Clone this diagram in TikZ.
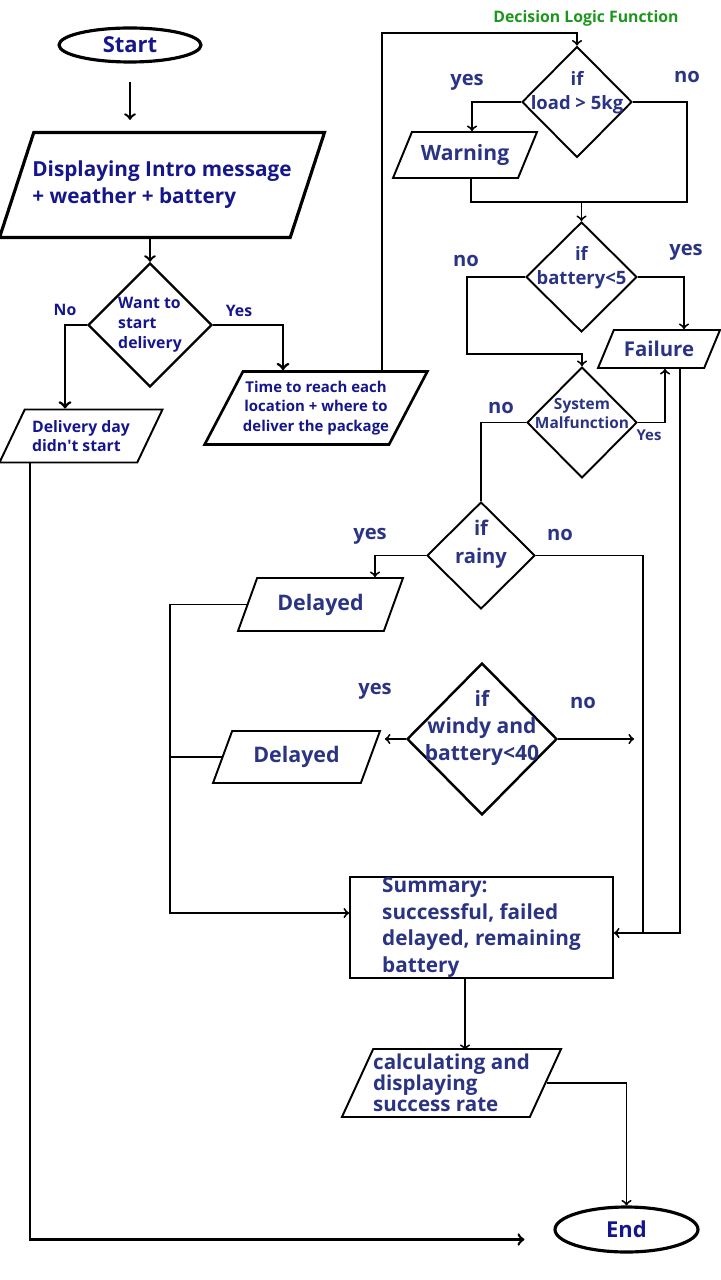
\documentclass[tikz,border=0pt]{standalone}
\usepackage{fontspec}
\setmainfont{Open Sans}
\usetikzlibrary{shapes.geometric}

\definecolor{navy}{RGB}{22,22,140}
\definecolor{ink}{RGB}{42,52,130}
\definecolor{leaf}{RGB}{30,150,30}

\newcommand{\fsz}[2]{\fontsize{#1}{#2}\selectfont\bfseries}
\newcommand{\lift}{\\\rule{0pt}{0pt}}

\begin{document}
\begin{tikzpicture}[x=0.02cm, y=-0.02cm,
  wire/.style={line width=1.1pt},
  arr/.style={wire, ->},
  term/.style={ellipse, draw, line width=1.8pt, text=navy, inner sep=0pt},
  io/.style={trapezium, trapezium left angle=60, trapezium right angle=120,
    trapezium stretches body=true, draw, line width=1.1pt, inner xsep=0pt, text=ink},
  dec/.style={diamond, aspect=1, draw, line width=1.1pt, inner sep=0pt, text=ink},
  lbl/.style={text=ink, font=\fsz{11.5}{14}}]

\useasboundingbox (0,0) rectangle (720,1280);

\node[term, minimum width=2.84cm, minimum height=0.68cm, font=\fsz{12.5}{15}] (start) at (130,45) {Start};
\node[io, line width=1.8pt, text=navy, minimum width=6.5cm, minimum height=2.1cm, inner xsep=-3pt, align=left, font=\fsz{11.8}{15.3}] (intro) at (162,185) {Displaying Intro message\\+ weather + battery};
\node[dec, line width=1.3pt, text=navy, minimum width=2.48cm, minimum height=2.48cm, inner sep=-2pt, align=left, font=\fsz{9}{11.3}] (want) at (150,325) {Want to\\start\\delivery};
\node[io, text=navy, minimum width=3.26cm, minimum height=1.06cm, align=left, font=\fsz{9}{11.3}] (nostart) at (81,436) {Delivery day\\didn\textquotesingle t start};
\node[io, line width=1.5pt, text=navy, minimum width=4.18cm, minimum height=1.46cm, align=center, font=\fsz{8.5}{11.3}] (route) at (316,408) {Time to reach each\\location + where to\\deliver the package};

\node[text=leaf, font=\fsz{9}{11}] (title) at (586,18) {Decision Logic Function};
\node[dec, minimum width=2.2cm, minimum height=2.22cm, inner sep=-7pt, align=center, font=\fsz{10.5}{13.6}] (load) at (577,102) {if\\load > 5kg\lift};
\node[io, minimum width=2.88cm, minimum height=0.92cm, font=\fsz{12}{14}] (warn) at (465,155) {Warning};
\node[dec, minimum width=2.22cm, minimum height=2.2cm, inner sep=-7pt, align=center, font=\fsz{10.5}{13.6}] (batt) at (581.5,277) {if\\battery<5\lift};
\node[io, minimum width=2.44cm, minimum height=0.76cm, font=\fsz{11.6}{14}] (fail) at (659,349) {Failure};
\node[dec, minimum width=2.2cm, minimum height=2.22cm, inner sep=-5pt, align=center, font=\fsz{8.8}{10.8}] (sys) at (582,422.5) {System\\Malfunction\lift};
\node[dec, minimum width=2.16cm, minimum height=2.14cm, inner sep=-2.5pt, align=center, font=\fsz{11.5}{15.9}] (rainy) at (481,555.5) {if\\rainy\lift};
\node[io, minimum width=3.3cm, minimum height=1.06cm, font=\fsz{12.2}{14}] (del1) at (320.5,604.5) {Delayed};
\node[dec, line width=1.4pt, minimum width=3cm, minimum height=3.04cm, inner sep=-9pt, align=center, font=\fsz{12}{15.3}] (windy) at (482,739) {if\\windy and\\battery<40\lift};
\node[io, minimum width=3.34cm, minimum height=1.04cm, font=\fsz{12.2}{14}] (del2) at (296.5,757) {Delayed};
\node[rectangle, draw, line width=1.1pt, text=ink, minimum width=5.26cm, minimum height=2.02cm, inner ysep=-3pt, align=left, font=\fsz{11.8}{15.3}] (summ) at (481.5,927.5) {Summary:\\successful, failed\\delayed, remaining\\battery};
\node[io, minimum width=4.26cm, minimum height=1.36cm, inner ysep=-1pt, align=left, font=\fsz{11.7}{11.9}] (calc) at (451.5,1083) {calculating and\\displaying\\success rate};
\node[term, minimum width=2.86cm, minimum height=0.9cm, font=\fsz{12.5}{15}] (end) at (626.5,1229.5) {End};
\coordinate (windyno) at (634,739);

\node[lbl, font=\fsz{9}{11}, text=navy] (no1) at (65,310) {No};
\node[lbl, font=\fsz{9}{11}, text=navy] (yes1) at (239,311) {Yes};
\node[lbl] (yes2) at (467,82) {yes};
\node[lbl] (no2) at (687,77) {no};
\node[lbl] (no3) at (466,261) {no};
\node[lbl] (yes3) at (686,252) {yes};
\node[lbl] (no4) at (501,408) {no};
\node[lbl, font=\fsz{8.5}{10}] (yes4) at (649,435) {Yes};
\node[lbl] (yes5) at (370,536) {yes};
\node[lbl] (no5) at (560,535) {no};
\node[lbl] (yes6) at (375,691) {yes};
\node[lbl] (no6) at (583,703) {no};

\draw[arr, line width=1.4pt, shorten <=0.36cm, shorten >=0.22cm] (start.south) -- (start.south |- intro.north);
\draw[arr, line width=1.4pt] (want.north |- intro.south) -- (want.north);
\draw[arr, line width=1.6pt] (want.west) -| ([xshift=-0.32cm]nostart.north);
\draw[arr, line width=1.6pt] (want.east) -| ([xshift=-0.66cm]route.north);
\draw[arr] ([xshift=1.32cm]route.north) -- ++(0,-337) -| (load.north);

\draw[arr] (load.west) -| ([xshift=0.14cm]warn.north);
\draw[wire] (load.east) -| ++(54,100) -| ([xshift=0.12cm]warn.south);
\draw[arr] (batt.north) ++(0,-20) -- (batt.north);
\draw[arr] (batt.west) -- ++(-58,0) -- ++(0,77) -| (sys.north);
\draw[arr] (batt.east) -| ([xshift=0.5cm]fail.north);
\draw[arr] (sys.east) -| ([xshift=0.12cm]fail.south);
\draw[arr] ([xshift=0.42cm]fail.south) |- ([yshift=-0.11cm]summ.east);
\draw[wire] (sys.west) -| (rainy.north);
\draw[wire] (rainy.east) -| ([xshift=0.58cm, yshift=-0.11cm]summ.east);
\draw[arr] (rainy.west) -| ([xshift=1.09cm]del1.north);
\draw[arr] (del1.west) -- ++(-77,0) |- ([yshift=0.29cm]summ.west);
\draw[arr, shorten >=2pt] (windy.west) -- (windy.west -| del2.top right corner);
\draw[arr] (windy.east) -- (windyno);
\draw[wire] (del2.west) -- ++(-53,0);

\draw[arr] ([xshift=-0.33cm]summ.south) -- ++(0,71);
\draw[arr] (calc.east) -| (end.north);
\draw[arr, line width=1.5pt, shorten >=0.58cm] ([xshift=-1.02cm]nostart.south) |- ([yshift=-0.2cm]end.west);

\end{tikzpicture}
\end{document}
